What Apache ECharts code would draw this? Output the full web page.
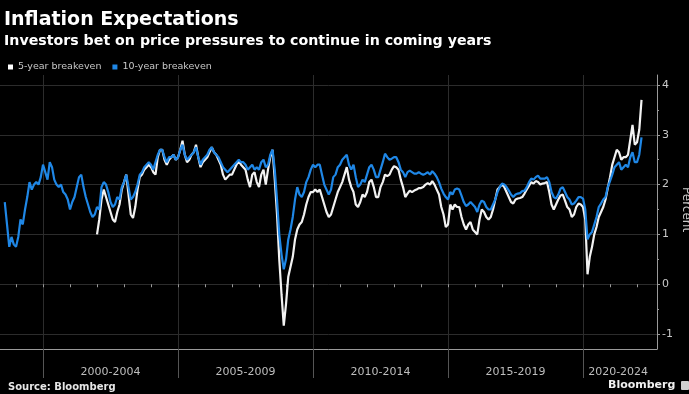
<!DOCTYPE html>
<html><head><meta charset="utf-8">
<script src="https://cdn.jsdelivr.net/npm/echarts@6/dist/echarts.min.js"></script>
<style>html,body{margin:0;padding:0;background:#000}#c{width:689px;height:394px}</style>
</head><body><div id="c"></div>
<script>
const titleText = 'Inflation Expectations';
const subtitleText = 'Investors bet on price pressures to continue in coming years';
const sourceText = 'Source: Bloomberg';
const brandText = 'Bloomberg';
const yAxisTitle = 'Percent';
const seriesNames = ['5-year breakeven', '10-year breakeven'];
const periodLabels = ['2000-2004', '2005-2009', '2010-2014', '2015-2019', '2020-2024'];
const periodStarts = [2000, 2005, 2010, 2015, 2020];
const periodLabelAt = [2002.5, 2007.5, 2012.5, 2017.5, 2021.3];
const yearTicks = [1999, 2000, 2001, 2002, 2003, 2004, 2005, 2006, 2007, 2008, 2009, 2010, 2011, 2012, 2013, 2014, 2015, 2016, 2017, 2018, 2019, 2020, 2021, 2022];
const yTickValues = [-1, 0, 1, 2, 3, 4];
const yHalfTicks = [-0.5, 0.5, 1.5, 2.5, 3.5];
const xRange = [1998.407, 2022.74];
const yRange = [-1.3, 4.2];

// monthly values, 5-year breakeven, from Jan 2002
const fiveYearStart = [2002, 1];
const fiveYear = [
  1.0, 1.3, 1.7, 1.9, 1.75, 1.6, 1.45, 1.3, 1.25, 1.45, 1.6, 1.9,
  2.05, 2.2, 1.8, 1.4, 1.33, 1.55, 1.9, 2.15, 2.2, 2.3, 2.35, 2.4,
  2.35, 2.25, 2.2, 2.55, 2.7, 2.7, 2.5, 2.4, 2.5, 2.55, 2.6, 2.5,
  2.55, 2.7, 2.88, 2.6, 2.45, 2.5, 2.6, 2.65, 2.8, 2.55, 2.35, 2.45,
  2.5, 2.55, 2.65, 2.75, 2.65, 2.6, 2.5, 2.4, 2.2, 2.1, 2.15, 2.2,
  2.2, 2.3, 2.4, 2.47, 2.4, 2.35, 2.3, 2.1, 1.95, 2.2, 2.25, 2.05,
  1.95, 2.2, 2.3, 2.0, 2.3, 2.55, 2.7, 2.1, 1.4, 0.5, -0.2, -0.83,
  -0.4, 0.15, 0.35, 0.55, 0.9, 1.1, 1.2, 1.25, 1.4, 1.6, 1.75, 1.85,
  1.85, 1.9, 1.85, 1.9, 1.75, 1.6, 1.45, 1.35, 1.4, 1.55, 1.7, 1.85,
  1.95, 2.05, 2.2, 2.35, 2.1, 1.95, 1.85, 1.6, 1.55, 1.65, 1.8, 1.75,
  1.85, 2.05, 2.1, 1.95, 1.75, 1.75, 1.95, 2.05, 2.2, 2.17, 2.2, 2.3,
  2.37, 2.35, 2.3, 2.1, 1.95, 1.75, 1.82, 1.88, 1.85, 1.88, 1.9, 1.93,
  1.93, 1.95, 2.0, 2.03, 2.0, 2.07, 2.0, 1.9, 1.8, 1.55, 1.4, 1.15,
  1.2, 1.6, 1.5, 1.6, 1.55, 1.55, 1.35, 1.2, 1.1, 1.2, 1.25, 1.1,
  1.05, 1.0, 1.3, 1.5, 1.45, 1.35, 1.3, 1.35, 1.5, 1.7, 1.9, 1.95,
  2.0, 1.95, 1.85, 1.75, 1.65, 1.62, 1.7, 1.72, 1.73, 1.75, 1.82, 1.9,
  1.98, 2.05, 2.02, 2.07, 2.05, 2.0, 2.02, 2.03, 2.05, 1.85, 1.6, 1.5,
  1.6, 1.7, 1.78, 1.8, 1.68, 1.55, 1.5, 1.35, 1.4, 1.55, 1.62, 1.6,
  1.55, 1.3, 0.2, 0.55, 0.75, 1.0, 1.15, 1.35, 1.45, 1.55, 1.7, 1.93,
  2.15, 2.4, 2.55, 2.7, 2.65, 2.5, 2.55, 2.55, 2.6, 2.9, 3.2, 2.8,
  2.85, 3.1, 3.7
];

// monthly values, 10-year breakeven, from Aug 1998
const tenYearStart = [1998, 8];
const tenYear = [
  1.65, 1.2, 0.75, 0.95, 0.8,
  0.75, 0.95, 1.3, 1.2, 1.5, 1.75, 2.05, 1.9, 2.0, 2.05, 2.0, 2.15,
  2.4, 2.25, 2.1, 2.45, 2.35, 2.1, 2.0, 1.95, 2.0, 1.85, 1.8, 1.7,
  1.5, 1.65, 1.75, 1.95, 2.15, 2.2, 1.95, 1.75, 1.6, 1.45, 1.35, 1.4,
  1.55, 1.5, 1.95, 2.05, 2.0, 1.85, 1.65, 1.55, 1.6, 1.75, 1.7, 1.95,
  2.05, 2.2, 1.95, 1.7, 1.75, 1.85, 2.0, 2.2, 2.25, 2.35, 2.4, 2.45,
  2.4, 2.3, 2.45, 2.6, 2.7, 2.7, 2.55, 2.45, 2.55, 2.55, 2.6, 2.5,
  2.55, 2.7, 2.8, 2.6, 2.5, 2.55, 2.6, 2.65, 2.75, 2.55, 2.4, 2.5,
  2.55, 2.6, 2.7, 2.75, 2.65, 2.6, 2.55, 2.45, 2.35, 2.3, 2.25, 2.3,
  2.35, 2.4, 2.45, 2.5, 2.45, 2.45, 2.4, 2.3, 2.35, 2.4, 2.3, 2.35,
  2.3, 2.45, 2.5, 2.35, 2.4, 2.6, 2.7, 2.3, 1.7, 1.0, 0.6, 0.3,
  0.5, 0.9, 1.1, 1.35, 1.7, 1.95, 1.8, 1.75, 1.85, 2.05, 2.15, 2.3,
  2.4, 2.35, 2.4, 2.4, 2.2, 2.0, 1.9, 1.8, 1.9, 2.15, 2.2, 2.35,
  2.4, 2.5, 2.55, 2.6, 2.4, 2.3, 2.4, 2.15, 1.95, 2.0, 2.1, 2.05,
  2.2, 2.35, 2.4, 2.3, 2.15, 2.15, 2.3, 2.45, 2.62, 2.55, 2.5, 2.52,
  2.55, 2.55, 2.45, 2.3, 2.25, 2.15, 2.25, 2.28, 2.25, 2.22, 2.22, 2.25,
  2.22, 2.2, 2.22, 2.25, 2.2, 2.27, 2.22, 2.15, 2.05, 1.92, 1.82, 1.75,
  1.7, 1.85, 1.8, 1.9, 1.92, 1.9, 1.78, 1.65, 1.57, 1.6, 1.65, 1.6,
  1.55, 1.45, 1.6, 1.68, 1.65, 1.55, 1.5, 1.5, 1.6, 1.7, 1.85, 1.95,
  2.02, 2.0, 1.95, 1.88, 1.8, 1.75, 1.8, 1.82, 1.83, 1.87, 1.88, 1.95,
  2.05, 2.12, 2.1, 2.15, 2.18, 2.12, 2.12, 2.12, 2.15, 2.05, 1.85, 1.75,
  1.72, 1.8, 1.92, 1.95, 1.85, 1.75, 1.7, 1.6, 1.62, 1.68, 1.75, 1.75,
  1.72, 1.5, 0.9, 1.0, 1.05, 1.2, 1.35, 1.55, 1.62, 1.7, 1.75, 1.95,
  2.07, 2.2, 2.35, 2.4, 2.45, 2.3, 2.35, 2.4, 2.35, 2.55, 2.65, 2.45,
  2.45, 2.6, 2.95
];

function toPairs(start, values) {
  return values.map((v, i) => [start[0] + (start[1] - 1 + i) / 12, v]);
}

const FONT = 'DejaVu Sans';
const chart = echarts.init(document.getElementById('c'), null, {renderer: 'canvas'});
chart.setOption({
  backgroundColor: '#000',
  animation: false,
  textStyle: {fontFamily: FONT},
  title: [
    {text: titleText, left: 4, top: 11, padding: 0,
     textStyle: {color: '#ffffff', fontSize: 19, fontWeight: 'bold', fontFamily: FONT}},
    {text: subtitleText, left: 4, top: 34, padding: 0,
     textStyle: {color: '#ffffff', fontSize: 14.2, fontWeight: 'bold', fontFamily: FONT}}
  ],
  legend: {
    left: 3, top: 57, icon: 'rect', itemWidth: 5, itemHeight: 5, itemGap: 11,
    textStyle: {color: '#c8c8c8', fontSize: 9.5, fontFamily: FONT},
    data: [
      {name: seriesNames[0], itemStyle: {color: '#ffffff'}},
      {name: seriesNames[1], itemStyle: {color: '#1f87e6'}}
    ]
  },
  grid: {left: 0, right: 32, top: 75, bottom: 45, outerBoundsMode: 'none', containLabel: false},
  xAxis: [
    {type: 'value', min: xRange[0], max: xRange[1], position: 'bottom',
     axisLine: {show: true, onZero: false, lineStyle: {color: '#9a9a9a', width: 1}},
     axisTick: {show: true, customValues: periodStarts, length: 29, lineStyle: {color: '#555555'}},
     splitLine: {show: true, lineStyle: {color: '#2c2c2c', width: 1}},
     axisLabel: {customValues: periodLabelAt, color: '#bdbdbd', fontSize: 11, margin: 18, fontFamily: FONT,
       formatter: function (v) {
         let best = 0;
         periodLabelAt.forEach((p, i) => { if (Math.abs(p - v) < Math.abs(periodLabelAt[best] - v)) best = i; });
         return periodLabels[best];
       }}},
    {type: 'value', min: xRange[0], max: xRange[1], position: 'bottom',
     axisLine: {show: false},
     axisTick: {show: true, customValues: yearTicks, length: 3, lineStyle: {color: '#9a9a9a'}},
     axisLabel: {show: false}, splitLine: {show: false}}
  ],
  yAxis: [
    {type: 'value', min: yRange[0], max: yRange[1], position: 'right',
     axisLine: {show: true, onZero: false, lineStyle: {color: '#9a9a9a', width: 1}},
     axisTick: {show: true, customValues: yTickValues, length: 3, lineStyle: {color: '#9a9a9a'}},
     splitLine: {show: true, lineStyle: {color: '#2c2c2c', width: 1}},
     axisLabel: {customValues: yTickValues, color: '#c8c8c8', fontSize: 11, margin: 5, fontFamily: FONT}},
    {type: 'value', min: yRange[0], max: yRange[1], position: 'right',
     axisLine: {show: false},
     axisTick: {show: true, customValues: yHalfTicks, length: 2, lineStyle: {color: '#9a9a9a'}},
     axisLabel: {show: false}, splitLine: {show: false}}
  ],
  series: [
    {name: seriesNames[0], type: 'line', xAxisIndex: 0, yAxisIndex: 0, showSymbol: false, silent: true,
     data: toPairs(fiveYearStart, fiveYear), itemStyle: {color: '#ffffff'},
     lineStyle: {color: '#f2f2f2', width: 2.2}, z: 3},
    {name: seriesNames[1], type: 'line', xAxisIndex: 0, yAxisIndex: 0, showSymbol: false, silent: true,
     data: toPairs(tenYearStart, tenYear), itemStyle: {color: '#1f87e6'},
     lineStyle: {color: '#1f87e6', width: 2.2}, z: 4}
  ],
  graphic: [
    {type: 'text', x: 692, y: 187, rotation: -Math.PI / 2,
     style: {text: yAxisTitle, fill: '#c8c8c8', font: '12px "DejaVu Sans"', align: 'left', verticalAlign: 'top'}},
    {type: 'text', left: 8, top: 382, style: {text: sourceText, fill: '#e6e6e6', font: 'bold 10px "DejaVu Sans"'}},
    {type: 'text', left: 608, top: 380, style: {text: brandText, fill: '#f0f0f0', font: 'bold 11px "DejaVu Sans"'}},
    {type: 'rect', left: 681, top: 381, shape: {width: 8, height: 9, r: 1}, style: {fill: '#cfcfcf'}}
  ]
});
</script></body></html>
